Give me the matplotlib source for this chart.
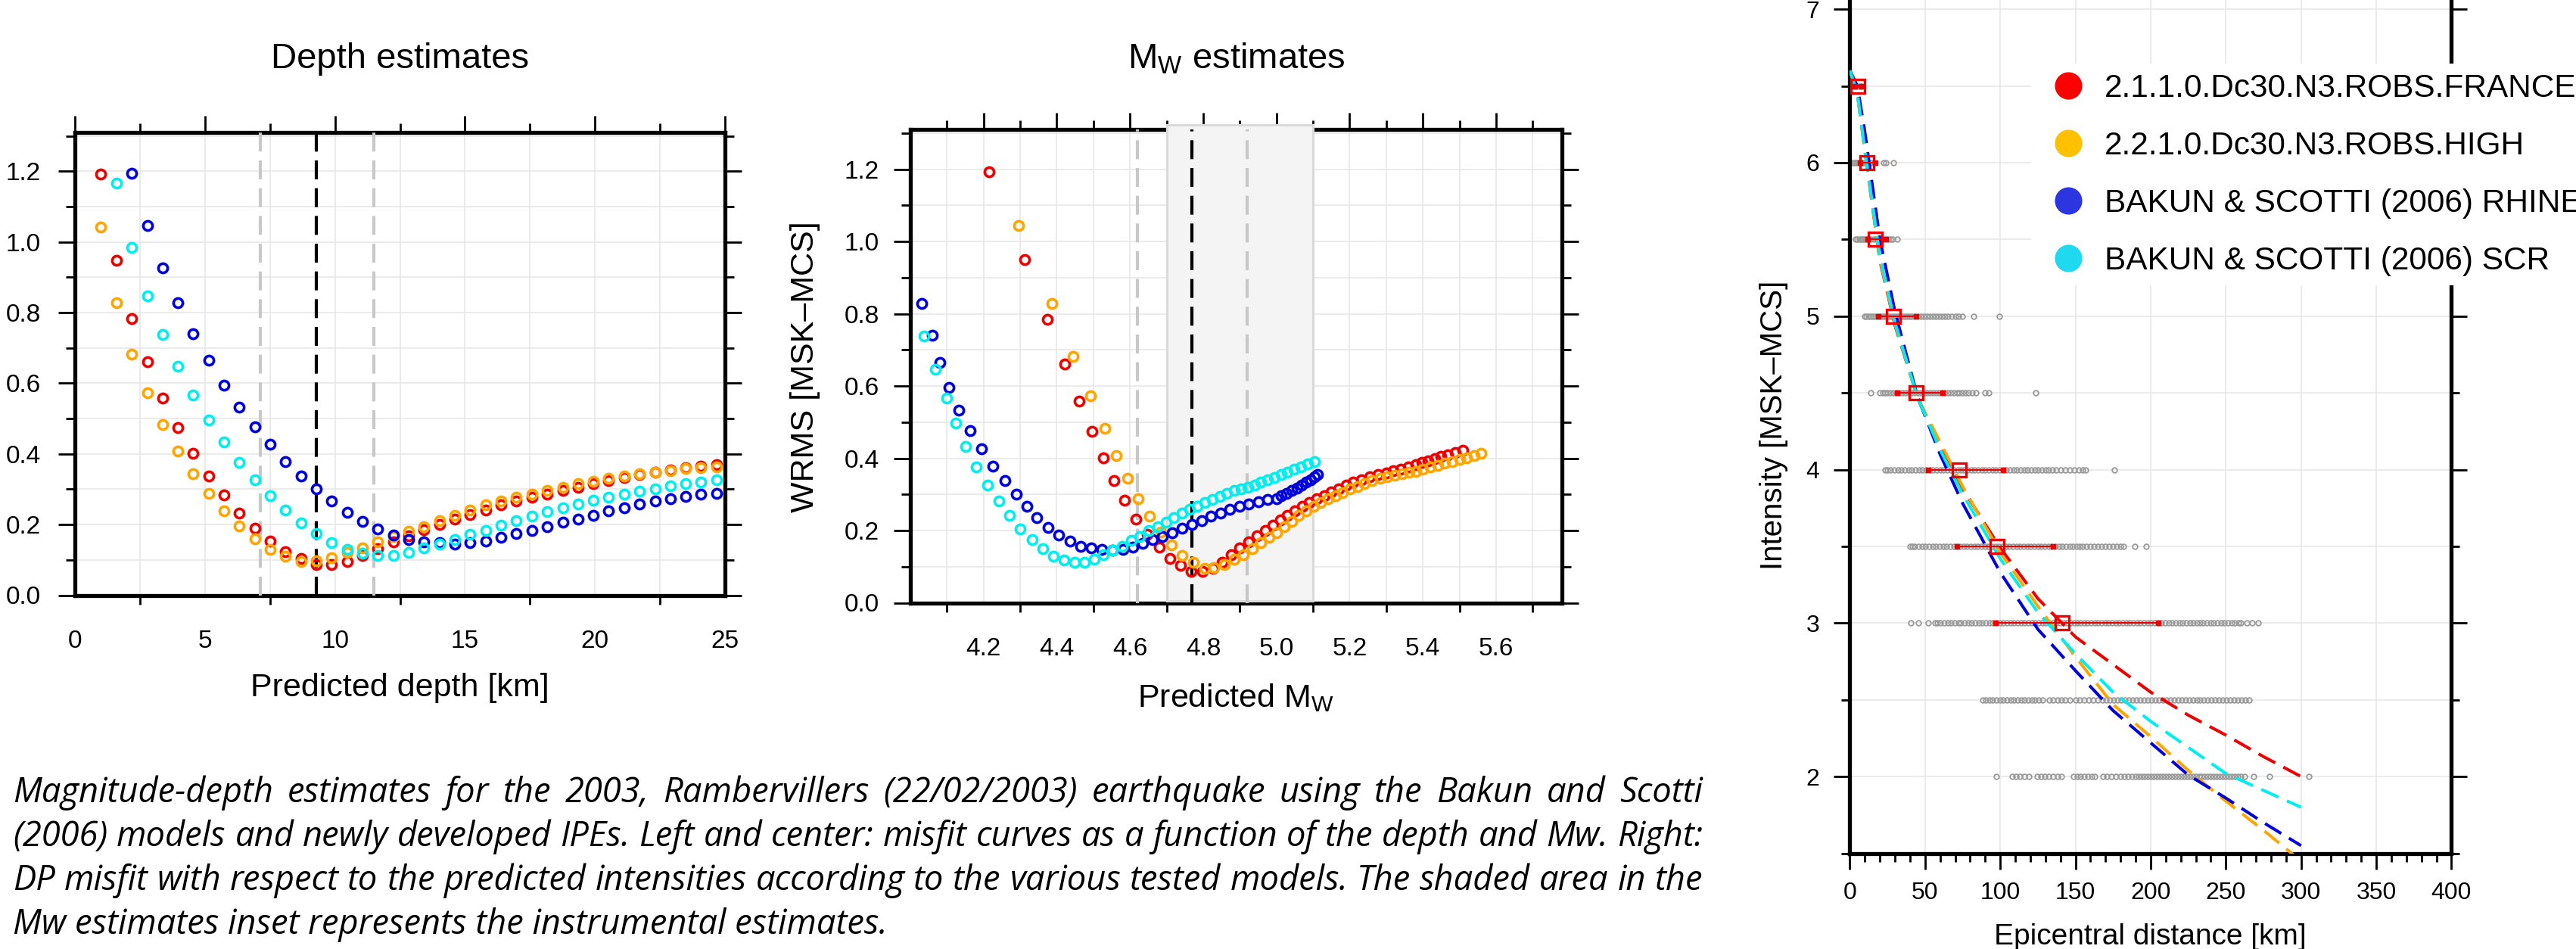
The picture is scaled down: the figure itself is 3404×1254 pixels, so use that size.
import numpy as np
import matplotlib
matplotlib.use("Agg")
import matplotlib.pyplot as plt
from matplotlib.lines import Line2D
from matplotlib.patches import Rectangle
from matplotlib.ticker import MultipleLocator, FixedLocator, FormatStrFormatter

W, H, DPI = 3404, 1254, 100
plt.rcParams['font.family'] = ['Liberation Sans', 'DejaVu Sans']
plt.rcParams['mathtext.default'] = 'regular'
nan = float('nan')

# ---------------------------------------------------------------- data
model_names = ["2.1.1.0.Dc30.N3.ROBS.FRANCE", "2.2.1.0.Dc30.N3.ROBS.HIGH",
               "BAKUN & SCOTTI (2006) RHINE", "BAKUN & SCOTTI (2006) SCR"]

# tested hypocentral depths (km)
depth_km = [1.00, 1.59, 2.18, 2.78, 3.37, 3.96, 4.55, 5.14, 5.73, 6.33,
            6.92, 7.51, 8.10, 8.69, 9.29, 9.88, 10.47, 11.06, 11.65, 12.24,
            12.84, 13.43, 14.02, 14.61, 15.20, 15.80, 16.39, 16.98, 17.57, 18.16,
            18.76, 19.35, 19.94, 20.53, 21.12, 21.71, 22.31, 22.90, 23.49, 24.08,
            24.67, 25.27, 25.86, 26.45, 27.04, 27.63, 28.22, 28.82, 29.41, 30.00]

# WRMS misfit for each depth
wrms_france = [1.193, 0.949, 0.784, 0.660, 0.559, 0.475, 0.402, 0.338, 0.283, 0.232,
               0.189, 0.154, 0.123, 0.104, 0.087, 0.086, 0.096, 0.113, 0.132, 0.151,
               0.168, 0.185, 0.201, 0.215, 0.229, 0.242, 0.255, 0.266, 0.278, 0.287,
               0.296, 0.306, 0.316, 0.325, 0.333, 0.341, 0.348, 0.354, 0.360, 0.365,
               0.370, 0.376, 0.382, 0.388, 0.393, 0.399, 0.405, 0.410, 0.416, 0.422]
wrms_high = [1.043, 0.828, 0.682, 0.572, 0.483, 0.408, 0.344, 0.288, 0.239, 0.196,
             0.160, 0.130, 0.111, 0.096, 0.098, 0.105, 0.120, 0.133, 0.150, 0.166,
             0.182, 0.194, 0.211, 0.225, 0.242, 0.255, 0.266, 0.277, 0.287, 0.296,
             0.305, 0.315, 0.322, 0.330, 0.338, 0.344, 0.349, 0.353, 0.358, 0.361,
             0.364, 0.369, 0.375, 0.380, 0.386, 0.391, 0.397, 0.402, 0.408, 0.413]
wrms_rhine = [nan, nan, 1.195, 1.046, 0.927, 0.828, 0.741, 0.665, 0.595, 0.532,
              0.476, 0.427, 0.379, 0.338, 0.300, 0.266, 0.235, 0.209, 0.187, 0.170,
              0.157, 0.152, 0.148, 0.145, 0.148, 0.154, 0.164, 0.175, 0.184, 0.194,
              0.207, 0.216, 0.227, 0.239, 0.248, 0.258, 0.267, 0.274, 0.279, 0.285,
              0.289, 0.296, 0.303, 0.311, 0.318, 0.326, 0.333, 0.340, 0.348, 0.355]
wrms_scr = [nan, 1.166, 0.985, 0.848, 0.739, 0.647, 0.567, 0.497, 0.433, 0.376,
            0.326, 0.282, 0.242, 0.204, 0.175, 0.149, 0.129, 0.118, 0.112, 0.113,
            0.120, 0.133, 0.145, 0.157, 0.172, 0.184, 0.199, 0.211, 0.224, 0.236,
            0.248, 0.258, 0.268, 0.277, 0.286, 0.295, 0.302, 0.310, 0.316, 0.320,
            0.326, 0.333, 0.340, 0.347, 0.355, 0.362, 0.369, 0.376, 0.384, 0.391]

# predicted Mw for each depth
mw_france = [4.216, 4.312, 4.374, 4.421, 4.462, 4.497, 4.527, 4.556, 4.586, 4.617,
             4.648, 4.680, 4.709, 4.739, 4.768, 4.798, 4.826, 4.852, 4.876, 4.900,
             4.924, 4.947, 4.970, 4.990, 5.010, 5.030, 5.050, 5.070, 5.090, 5.110,
             5.130, 5.150, 5.170, 5.190, 5.210, 5.232, 5.255, 5.278, 5.300, 5.320,
             5.340, 5.360, 5.380, 5.398, 5.415, 5.432, 5.450, 5.467, 5.489, 5.510]
mw_high = [4.295, 4.387, 4.445, 4.493, 4.531, 4.562, 4.593, 4.623, 4.653, 4.684,
           4.714, 4.743, 4.773, 4.804, 4.829, 4.857, 4.884, 4.910, 4.934, 4.957,
           4.979, 5.000, 5.021, 5.041, 5.061, 5.081, 5.101, 5.121, 5.141, 5.161,
           5.181, 5.201, 5.221, 5.241, 5.262, 5.283, 5.303, 5.323, 5.343, 5.362,
           5.381, 5.400, 5.420, 5.440, 5.460, 5.480, 5.500, 5.520, 5.540, 5.559]
mw_rhine = [nan, nan, 3.900, 3.940, 3.975, 4.030, 4.059, 4.080, 4.106, 4.133,
            4.164, 4.195, 4.226, 4.258, 4.290, 4.319, 4.346, 4.377, 4.406, 4.436,
            4.465, 4.494, 4.523, 4.553, 4.580, 4.607, 4.634, 4.661, 4.688, 4.715,
            4.742, 4.769, 4.795, 4.821, 4.847, 4.873, 4.899, 4.925, 4.950, 4.975,
            5.000, 5.014, 5.028, 5.042, 5.056, 5.069, 5.082, 5.094, 5.104, 5.113]
mw_scr = [nan, 3.900, 3.940, 3.975, 4.037, 4.068, 4.100, 4.124, 4.151, 4.179,
          4.211, 4.242, 4.271, 4.300, 4.332, 4.361, 4.390, 4.419, 4.449, 4.476,
          4.502, 4.528, 4.553, 4.578, 4.603, 4.627, 4.651, 4.675, 4.698, 4.720,
          4.742, 4.763, 4.784, 4.805, 4.825, 4.845, 4.865, 4.884, 4.903, 4.922,
          4.940, 4.958, 4.976, 4.994, 5.012, 5.030, 5.048, 5.066, 5.085, 5.104]

best_depth, depth_lo, depth_hi = 9.29, 7.12, 11.51
best_mw, mw_lo, mw_hi = 4.77, 4.62, 4.92
instr_mw_lo, instr_mw_hi = 4.70, 5.10

# observed intensities (intensity level -> epicentral distances, km)
obs_levels = [6.5, 6.0, 5.5, 5.0, 4.5, 4.0, 3.5, 3.0, 2.5, 2.0]
obs_dist = [
    [2, 3, 4, 5, 6, 7, 8],
    [2.5, 3.5, 4.5, 5.5, 6.5, 7.5, 8.5, 9.5, 10.5, 12, 14, 16, 22.5, 23.7, 29.2],
    [3.7, 5, 6.3, 7.5, 8.5, 9.5, 10.5, 11.5, 12.5, 14, 16, 18, 20, 22, 24, 25.5, 27, 28.3, 31.3],
    [9.7, 11, 12.5, 14, 15.5, 17, 18.5, 20, 21.5, 23, 24.5, 26, 27.5, 29, 30.5, 32, 33.5, 35,
     36.5, 38, 39.5, 41, 43, 45, 47, 49, 51, 53, 55, 57, 59, 61, 63, 65, 67.5, 70, 72.5, 75,
     82.5, 99.5],
    [13.8, 19.7, 21.7, 23.5, 25, 27, 29, 31, 33, 35, 37, 39, 41, 43, 45, 47, 49, 51, 53, 55,
     57, 59, 61, 63, 65, 67, 69, 71, 73, 75, 77, 79, 81.5, 84, 90, 92.5, 123.5],
    [23.3, 25, 27, 29.5, 32, 34, 36.5, 39, 41, 43.5, 46, 48, 50.5, 53, 55, 57.5, 60, 62, 64.5,
     67, 69, 71.5, 74, 76, 78.5, 81, 83, 85.5, 88, 90, 92.5, 95, 97, 99.5, 102, 104, 106.5,
     109, 111, 113.5, 116, 118, 120.5, 123, 125, 127.5, 130, 132, 134.5, 137, 140, 143, 146,
     149, 152, 155, 157, 175.8],
    [40, 41.5, 43, 45.5, 48, 50, 52.5, 55, 57, 59.5, 62, 64, 66.5, 69, 71, 73.5, 76, 78, 80.5,
     83, 85, 87.5, 90, 92, 94.5, 97, 99, 101.5, 104, 106, 108.5, 111, 113, 115.5, 118, 120,
     122.5, 125, 127, 129.5, 132, 134, 136.5, 139, 141, 143.5, 146, 148, 150.5, 153, 155,
     157.5, 160, 162.5, 165, 167.5, 170, 172.5, 175, 177.5, 180, 182, 189.5, 196.8],
    [40.5, 45.5, 52, 56.5, 58, 60, 62.5, 65, 67, 69.5, 72, 74, 76.5, 79, 81, 83.5, 86, 88,
     90.5, 93, 95, 97.5, 100, 102, 104.5, 107, 109, 111.5, 114, 116, 118.5, 121, 123, 125.5,
     128, 130, 132.5, 135, 137, 139.5, 142, 144, 146.5, 149, 151, 153.5, 156, 158, 160.5,
     163, 165, 167.5, 170, 172, 174.5, 177, 179, 181.5, 184, 186, 188.5, 191, 193, 195.5,
     198, 200, 202.5, 205, 207, 209.5, 212, 214, 216.5, 219, 221, 223.5, 226, 228, 230.5,
     233, 235, 237.5, 240, 242, 244.5, 247, 249, 251.5, 254, 256, 258.5, 260, 264, 267.5,
     271.5],
    [88.6, 90.5, 93, 95, 97.5, 100, 102, 104.5, 107, 109, 111.5, 114, 116, 118.5, 121, 123,
     125.5, 128, 132.5, 135, 138, 140.5, 143, 146, 150, 153, 156, 159, 162, 165, 168, 170.5,
     173, 175.5, 178, 180.5, 183, 185.5, 188, 190.5, 193, 195.5, 198, 200.5, 203, 205.5, 208,
     210.5, 213, 215.5, 218, 220.5, 223, 225.5, 228, 230.5, 233, 235.5, 238, 240.5, 243,
     245.5, 248, 250.5, 253, 255.5, 258, 260.5, 263, 265.5],
    [97.4, 108, 110.5, 113, 116, 119, 124.5, 127, 129.5, 132, 135, 138, 140.5, 148.5, 151,
     153.5, 156, 158.5, 161, 163, 168.5, 171, 174, 177, 180, 182.5, 185, 187.5, 190, 192,
     194, 196, 198, 200, 202, 204, 206, 208, 210, 212, 214, 216, 218, 220, 222, 224, 226,
     228, 230, 232, 234, 236, 238, 240, 242, 244, 246, 248, 250, 252, 254, 256, 258, 260,
     262.5, 268.5, 279, 305],
]

# binned observations: median distance and spread per intensity level
bin_levels = [6.5, 6.0, 5.5, 5.0, 4.5, 4.0, 3.5, 3.0]
bin_median = [5.5, 11.3, 17.0, 29.0, 44.0, 72.8, 98.0, 141.0]
bin_low = [3.5, 6.7, 11.7, 18.8, 31.5, 52.3, 71.2, 96.8]
bin_high = [8.0, 17.0, 23.7, 44.0, 61.8, 102.0, 135.3, 205.0]

# predicted intensity decay for each model
ipe_dist = [0, 5, 10, 20, 30, 45, 60, 75, 100, 125, 150, 175, 200, 225, 250, 275, 300]
ipe_france = [6.60, 6.45, 6.08, 5.36, 4.94, 4.47, 4.15, 3.875, 3.49, 3.16, 2.91, 2.73, 2.55, 2.40, 2.27, 2.13, 2.00]
ipe_high = [6.60, 6.45, 6.08, 5.37, 4.95, 4.47, 4.18, 3.89, 3.46, 3.11, 2.78, 2.47, 2.26, 2.04, 1.84, 1.65, 1.45]
ipe_rhine = [6.60, 6.50, 6.20, 5.50, 5.03, 4.475, 4.10, 3.78, 3.33, 2.96, 2.69, 2.43, 2.22, 2.01, 1.86, 1.70, 1.55]
ipe_scr = [6.60, 6.46, 6.08, 5.39, 4.96, 4.47, 4.13, 3.84, 3.42, 3.07, 2.80, 2.55, 2.36, 2.19, 2.02, 1.91, 1.80]

caption_lines = [
    "Magnitude-depth estimates for the 2003, Rambervillers (22/02/2003) earthquake using the Bakun and Scotti",
    "(2006) models and newly developed IPEs. Left and center: misfit curves as a function of the depth and Mw. Right:",
    "DP misfit with respect to the predicted intensities according to the various tested models. The shaded area in the",
    "Mw estimates inset represents the instrumental estimates.",
]

# ---------------------------------------------------------------- styles
plot_colors = ['#ee0000', '#ffa500', '#0000dd', '#00eeee']
legend_colors = ['#ff0000', '#ffc000', '#2b35e0', '#1ed9f0']
grid_col = '#e6e6e6'

fig = plt.figure(figsize=(W / DPI, H / DPI), dpi=DPI)
fig.patch.set_facecolor('white')


def px_axes(l, r, t, b):
    return fig.add_axes([l / W, 1 - b / H, (r - l) / W, (b - t) / H])


def style_frame(ax, major_len=16, minor_len=8.5):
    for s in ax.spines.values():
        s.set_linewidth(3.8)
        s.set_color('black')
    ax.tick_params(which='both', direction='out', top=True, right=True,
                   width=2.0, color='black')
    ax.tick_params(which='major', length=major_len)
    ax.tick_params(which='minor', length=minor_len)


wrms = [wrms_france, wrms_high, wrms_rhine, wrms_scr]
mws = [mw_france, mw_high, mw_rhine, mw_scr]
circ = dict(linestyle='none', marker='o', ms=8.8, mfc='none', mew=2.6, zorder=4)

# ---------------------------------------------------------------- depth panel
ax1 = px_axes(99, 958, 175, 786.5)
style_frame(ax1)
ax1.set_xlim(0, 25)
ax1.set_ylim(0, 1.31)
ax1.xaxis.set_major_locator(MultipleLocator(5))
ax1.xaxis.set_minor_locator(MultipleLocator(2.5))
ax1.yaxis.set_major_locator(MultipleLocator(0.2))
ax1.yaxis.set_minor_locator(MultipleLocator(0.1))
ax1.yaxis.set_major_formatter(FormatStrFormatter('%.1f'))
ax1.tick_params(axis='x', which='major', bottom=False, labelsize=24, pad=16.5)
ax1.tick_params(axis='y', labelsize=24, pad=16.4)
ax1.grid(which='both', color=grid_col, lw=1.1)
ax1.set_axisbelow(True)
for xv, col in [(depth_lo, '#c8c8c8'), (depth_hi, '#c8c8c8'), (best_depth, 'black')]:
    ax1.axvline(xv, color=col, lw=3, dashes=(6, 2.8), zorder=2.7)
for y, c in zip(wrms, plot_colors):
    ax1.plot(depth_km, y, mec=c, **circ)
ax1.set_title('Depth estimates', fontsize=34, y=1.1586, va='center', pad=0)
ax1.set_xlabel('Predicted depth [km]', fontsize=31, va='center')
ax1.xaxis.set_label_coords(0.5, -0.2003)

# ---------------------------------------------------------------- Mw panel
ax2 = px_axes(1203, 2064, 171, 796.5)
style_frame(ax2)
ax2.set_xlim(4.0, 5.78)
ax2.set_ylim(0, 1.31)
ax2.xaxis.set_major_locator(FixedLocator([4.2, 4.4, 4.6, 4.8, 5.0, 5.2, 5.4, 5.6]))
ax2.xaxis.set_minor_locator(FixedLocator([4.1, 4.3, 4.5, 4.7, 4.9, 5.1, 5.3, 5.5, 5.7]))
ax2.xaxis.set_major_formatter(FormatStrFormatter('%.1f'))
ax2.yaxis.set_major_locator(MultipleLocator(0.2))
ax2.yaxis.set_minor_locator(MultipleLocator(0.1))
ax2.yaxis.set_major_formatter(FormatStrFormatter('%.1f'))
ax2.tick_params(axis='x', which='major', bottom=False, labelsize=24, pad=17)
ax2.tick_params(axis='y', labelsize=24, pad=13.8)
ax2.grid(which='both', color=grid_col, lw=1.1)
ax2.set_axisbelow(True)
ax2.add_patch(Rectangle((instr_mw_lo, 0.006), instr_mw_hi - instr_mw_lo, 1.31 - 0.006 + 0.012,
                        facecolor='#f4f4f4', edgecolor='#dadada', lw=2.2,
                        zorder=2.6, clip_on=False))
for xv, col in [(mw_lo, '#c8c8c8'), (mw_hi, '#c8c8c8'), (best_mw, 'black')]:
    ax2.axvline(xv, color=col, lw=3, dashes=(6, 2.8), zorder=2.7)
for x, y, c in zip(mws, wrms, plot_colors):
    ax2.plot(x, y, mec=c, **circ)
ax2.set_title('M$_\\mathregular{W}$ estimates', fontsize=34, y=1.1487, va='center', pad=0)
ax2.set_xlabel('Predicted M$_\\mathregular{W}$', fontsize=31, va='center')
ax2.xaxis.set_label_coords(0.5, -0.2006)
ax2.set_ylabel('WRMS [MSK\u2013MCS]', fontsize=31, va='center')
ax2.yaxis.set_label_coords(-0.1614, 0.4985)

# ---------------------------------------------------------------- intensity panel
ax3 = fig.add_axes([2444.4 / W, 1 - 1127.5 / H, 795 / W, 1216.8 / H])
style_frame(ax3, major_len=15, minor_len=8)
ax3.set_xlim(0, 400)
ax3.set_ylim(1.5, 7.5)
ax3.xaxis.set_major_locator(MultipleLocator(50))
ax3.xaxis.set_minor_locator(MultipleLocator(10))
ax3.yaxis.set_major_locator(MultipleLocator(1))
ax3.yaxis.set_minor_locator(MultipleLocator(0.5))
ax3.xaxis.set_major_formatter(FormatStrFormatter('%d'))
ax3.yaxis.set_major_formatter(FormatStrFormatter('%d'))
ax3.tick_params(axis='x', labelsize=23, pad=12)
ax3.tick_params(axis='y', labelsize=23, pad=14)
ax3.tick_params(which='both', top=False)
ax3.grid(axis='x', which='major', color=grid_col, lw=1.1)
ax3.grid(axis='y', which='both', color=grid_col, lw=1.1)
ax3.set_axisbelow(True)

for lev, dl in zip(obs_levels, obs_dist):
    ax3.plot(dl, [lev] * len(dl), linestyle='none', marker='o', ms=4.8, mfc='none',
             mec='#9a9a9a', mew=1.3, zorder=2)
for yi, c in zip([ipe_france, ipe_high, ipe_rhine, ipe_scr], plot_colors):
    ax3.plot(ipe_dist, yi, color=c, lw=2.9, dashes=(6.2, 3.0), zorder=3)
for lev, md, lo, hi in zip(bin_levels, bin_median, bin_low, bin_high):
    ax3.plot([lo, hi], [lev, lev], color='#ee0000', lw=1.5, zorder=4)
    ax3.plot([lo, hi], [lev, lev], linestyle='none', marker='s', ms=4.6,
             mfc='#ee0000', mec='#ee0000', zorder=4.5)
ax3.plot(bin_median, bin_levels, linestyle='none', marker='s', ms=12.5,
         mfc='none', mec='#ee0000', mew=2.4, zorder=5)

ax3.set_xlabel('Epicentral distance [km]', fontsize=28, va='center')
ax3.xaxis.set_label_coords(0.4995, -0.0908)
ax3.set_ylabel('Intensity [MSK\u2013MCS]', fontsize=29, va='center')
ax3.yaxis.set_label_coords(-0.1267, 0.4647)

handles = [Line2D([], [], linestyle='none', marker='o', markersize=26,
                  markerfacecolor=c, markeredgecolor='none') for c in legend_colors]
leg = ax3.legend(handles, model_names, loc='upper left',
                 bbox_to_anchor=(2684 / W, 1 - 84 / H), bbox_transform=fig.transFigure,
                 frameon=True, fancybox=False, facecolor='white', edgecolor='none',
                 framealpha=1, borderpad=0.3, handlelength=1.70, handletextpad=0.28,
                 labelspacing=0.85, borderaxespad=0, prop={'size': 30.5})
leg.set_zorder(10)

# ---------------------------------------------------------------- caption (justified)
renderer = fig.canvas.get_renderer()
cap_props = dict(family=['Open Sans', 'DejaVu Sans'], style='italic')
x0_px, x1_px = 17, 2250
baselines = [1060, 1118, 1176, 1234]


def text_width(s, fs):
    t = fig.text(0, 0, s, fontsize=fs, **cap_props)
    w = t.get_window_extent(renderer).width
    t.remove()
    return w


base_fs = 30
nat = max(text_width(caption_lines[1], base_fs), text_width(caption_lines[2], base_fs))
cap_fs = base_fs * (x1_px - x0_px) / nat

for i, (line, yb) in enumerate(zip(caption_lines, baselines)):
    if i == len(caption_lines) - 1:
        fig.text(x0_px / W, 1 - yb / H, line, fontsize=cap_fs, ha='left',
                 va='baseline', **cap_props)
        continue
    words = line.split(' ')
    widths = [text_width(w, cap_fs) for w in words]
    gap = (x1_px - x0_px - sum(widths)) / (len(words) - 1)
    x = x0_px
    for w, wd in zip(words, widths):
        fig.text(x / W, 1 - yb / H, w, fontsize=cap_fs, ha='left', va='baseline', **cap_props)
        x += wd + gap

fig.savefig('out.png', dpi=DPI, facecolor='white')
